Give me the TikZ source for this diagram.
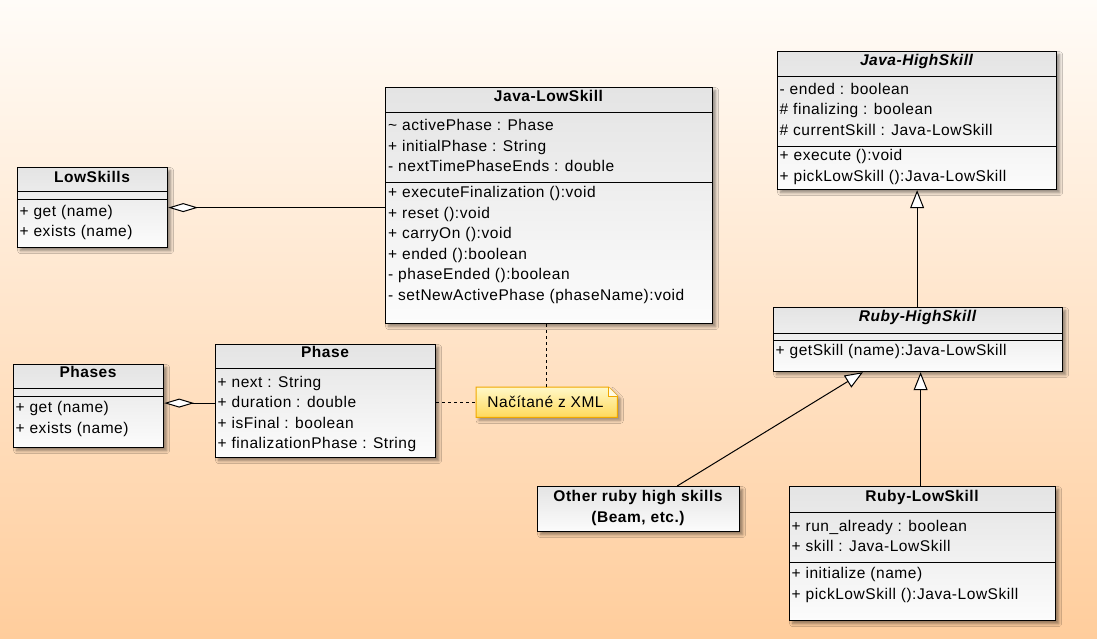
\documentclass[tikz,border=0pt]{standalone}
\usepackage{fontspec}
\setmainfont{Liberation Sans}[LetterSpace=3.5]
\usetikzlibrary{arrows.meta,shadows.blur,calc}
\definecolor{bgtop}{HTML}{FFFCF8}
\definecolor{bgbot}{HTML}{FFCD9C}
\definecolor{boxtop}{HTML}{E4E4E4}
\definecolor{boxbot}{HTML}{FCFCFC}
\definecolor{notetop}{HTML}{FFF8C8}
\definecolor{notebot}{HTML}{FFD95A}
\definecolor{noteline}{HTML}{F0A800}
\begin{document}
\begin{tikzpicture}[x=1pt,y=-1pt,
  classbox/.style={draw=black, line width=1.2pt, rectangle, inner sep=0pt, anchor=north west,
    top color=boxtop, bottom color=boxbot,
    blur shadow={shadow xshift=3pt, shadow yshift=-3pt, shadow blur steps=6, shadow opacity=45, shadow blur radius=3pt}},
  sep/.style={draw=black, line width=1pt},
  ln/.style={anchor=base west, inner sep=0pt, font=\fontsize{15.5}{18}\selectfont},
  ttl/.style={anchor=base, inner sep=0pt, font=\fontsize{15.5}{18}\selectfont\bfseries},
  ittl/.style={anchor=base, inner sep=0pt, font=\fontsize{15.5}{18}\selectfont\bfseries\itshape},
  gen/.style={line width=1pt, -{Triangle[length=18pt, width=14pt, fill=white, line width=1pt]}},
  agg/.style={line width=1pt, {Diamond[length=30pt, width=9pt, fill=white, line width=1pt]}-},
  dep/.style={line width=1pt, dash pattern=on 3pt off 3pt}
]
% background
\shade[top color=bgtop, bottom color=bgbot] (0,0) rectangle (1097,639);
\useasboundingbox (0,0) rectangle (1097,639);

% Java-LowSkill
\node[classbox, minimum width=327pt, minimum height=236pt] (jl) at (385,87) {};
\draw[sep] (385,113) -- (712,113);
\draw[sep] (385,183) -- (712,183);
\node[ttl] (jl-t) at (548.5,102) {Java-LowSkill};
\node[ln] (jl-a1) at (388,131) {\textasciitilde{} activePhase : Phase};
\node[ln] (jl-a2) at (388,151.5) {+ initialPhase : String};
\node[ln] (jl-a3) at (388,172) {- nextTimePhaseEnds : double};
\node[ln] (jl-m1) at (388,197.7) {+ executeFinalization ():void};
\node[ln] (jl-m2) at (388,218.2) {+ reset ():void};
\node[ln] (jl-m3) at (388,238.7) {+ carryOn ():void};
\node[ln] (jl-m4) at (388,259.2) {+ ended ():boolean};
\node[ln] (jl-m5) at (388,279.7) {- phaseEnded ():boolean};
\node[ln] (jl-m6) at (388,300.2) {- setNewActivePhase (phaseName):void};

% Java-HighSkill
\node[classbox, minimum width=279pt, minimum height=138pt] (jh) at (777,51) {};
\draw[sep] (777,77) -- (1056,77);
\draw[sep] (777,147) -- (1056,147);
\node[ittl] (jh-t) at (916.5,65.7) {Java-HighSkill};
\node[ln] (jh-a1) at (779.5,94.3) {- ended : boolean};
\node[ln] (jh-a2) at (779.5,114.8) {\# finalizing : boolean};
\node[ln] (jh-a3) at (779.5,135.3) {\# currentSkill : Java-LowSkill};
\node[ln] (jh-m1) at (779.5,161) {+ execute ():void};
\node[ln] (jh-m2) at (779.5,181.5) {+ pickLowSkill ():Java-LowSkill};

% LowSkills
\node[classbox, minimum width=150pt, minimum height=80pt] (ls) at (17,167) {};
\draw[sep] (17,192) -- (167,192);
\draw[sep] (17,200) -- (167,200);
\node[ttl] (ls-t) at (92,182.3) {LowSkills};
\node[ln] (ls-m1) at (19.5,216) {+ get (name)};
\node[ln] (ls-m2) at (19.5,236.5) {+ exists (name)};

% Phases
\node[classbox, minimum width=150pt, minimum height=83pt] (phs) at (13,364) {};
\draw[sep] (13,388) -- (163,388);
\draw[sep] (13,396) -- (163,396);
\node[ttl] (phs-t) at (88,377.3) {Phases};
\node[ln] (phs-m1) at (15.5,412.5) {+ get (name)};
\node[ln] (phs-m2) at (15.5,433) {+ exists (name)};

% Phase
\node[classbox, minimum width=220pt, minimum height=113pt] (ph) at (215,344) {};
\draw[sep] (215,368) -- (435,368);
\node[ttl] (ph-t) at (325,357.3) {Phase};
\node[ln] (ph-a1) at (217.5,387.3) {+ next : String};
\node[ln] (ph-a2) at (217.5,407.8) {+ duration : double};
\node[ln] (ph-a3) at (217.5,428.3) {+ isFinal : boolean};
\node[ln] (ph-a4) at (217.5,448.8) {+ finalizationPhase : String};

% Ruby-HighSkill
\node[classbox, minimum width=289pt, minimum height=64pt] (rh) at (773,307) {};
\draw[sep] (773,333) -- (1062,333);
\draw[sep] (773,340) -- (1062,340);
\node[ittl] (rh-t) at (917.5,321.7) {Ruby-HighSkill};
\node[ln] (rh-m1) at (775.5,355.7) {+ getSkill (name):Java-LowSkill};

% Ruby-LowSkill
\node[classbox, minimum width=266pt, minimum height=134pt] (rl) at (789,486) {};
\draw[sep] (789,512) -- (1055,512);
\draw[sep] (789,562) -- (1055,562);
\node[ttl] (rl-t) at (922,501.7) {Ruby-LowSkill};
\node[ln] (rl-a1) at (791.5,531.3) {+ run\_already : boolean};
\node[ln] (rl-a2) at (791.5,551.8) {+ skill : Java-LowSkill};
\node[ln] (rl-m1) at (791.5,578.8) {+ initialize (name)};
\node[ln] (rl-m2) at (791.5,599.3) {+ pickLowSkill ():Java-LowSkill};

% Other ruby high skills
\node[classbox, minimum width=202pt, minimum height=45pt] (oth) at (537,486) {};
\node[ttl] (oth-t1) at (638,501.7) {Other ruby high skills};
\node[ttl] (oth-t2) at (638,522.3) {(Beam, etc.)};

% Note
\node[rectangle, inner sep=0pt, anchor=north west, minimum width=141pt, minimum height=30pt] (note) at (476,387) {};
\path[draw=noteline, line width=1pt, top color=notetop, bottom color=notebot,
  blur shadow={shadow xshift=3pt, shadow yshift=-3pt, shadow blur steps=6, shadow opacity=40, shadow blur radius=3pt}]
  (note.north west) -- ([xshift=-9pt]note.north east) -- ([yshift=-9pt]note.north east)
  -- (note.south east) -- (note.south west) -- cycle;
\draw[noteline, line width=0.8pt, fill=notetop!50!white] ([xshift=-9pt]note.north east) -- ([xshift=-9pt,yshift=-9pt]note.north east) -- ([yshift=-9pt]note.north east);
\node[ln, anchor=base] (note-t) at (545.5,407.3) {Načítané z XML};

% connectors
\draw[agg] (ls.east) -- (ls.east -| jl.west);
\draw[agg] ([yshift=3pt]phs.east) -- ([yshift=3pt]phs.east -| ph.west);
\draw[gen] (jh.south |- rh.north) -- (jh.south);
\draw[gen] ([xshift=-2pt]rl.north) -- ([xshift=-2pt]rl.north |- rh.south);
\draw[gen] ($(oth.north west)!0.69!(oth.north east)$) -- ($(rh.south west)!0.31!(rh.south east)$);
\draw[dep] (note.north |- jl.south) -- (note.north);
\draw[dep] (note.west -| ph.east) -- (note.west);
\end{tikzpicture}
\end{document}
